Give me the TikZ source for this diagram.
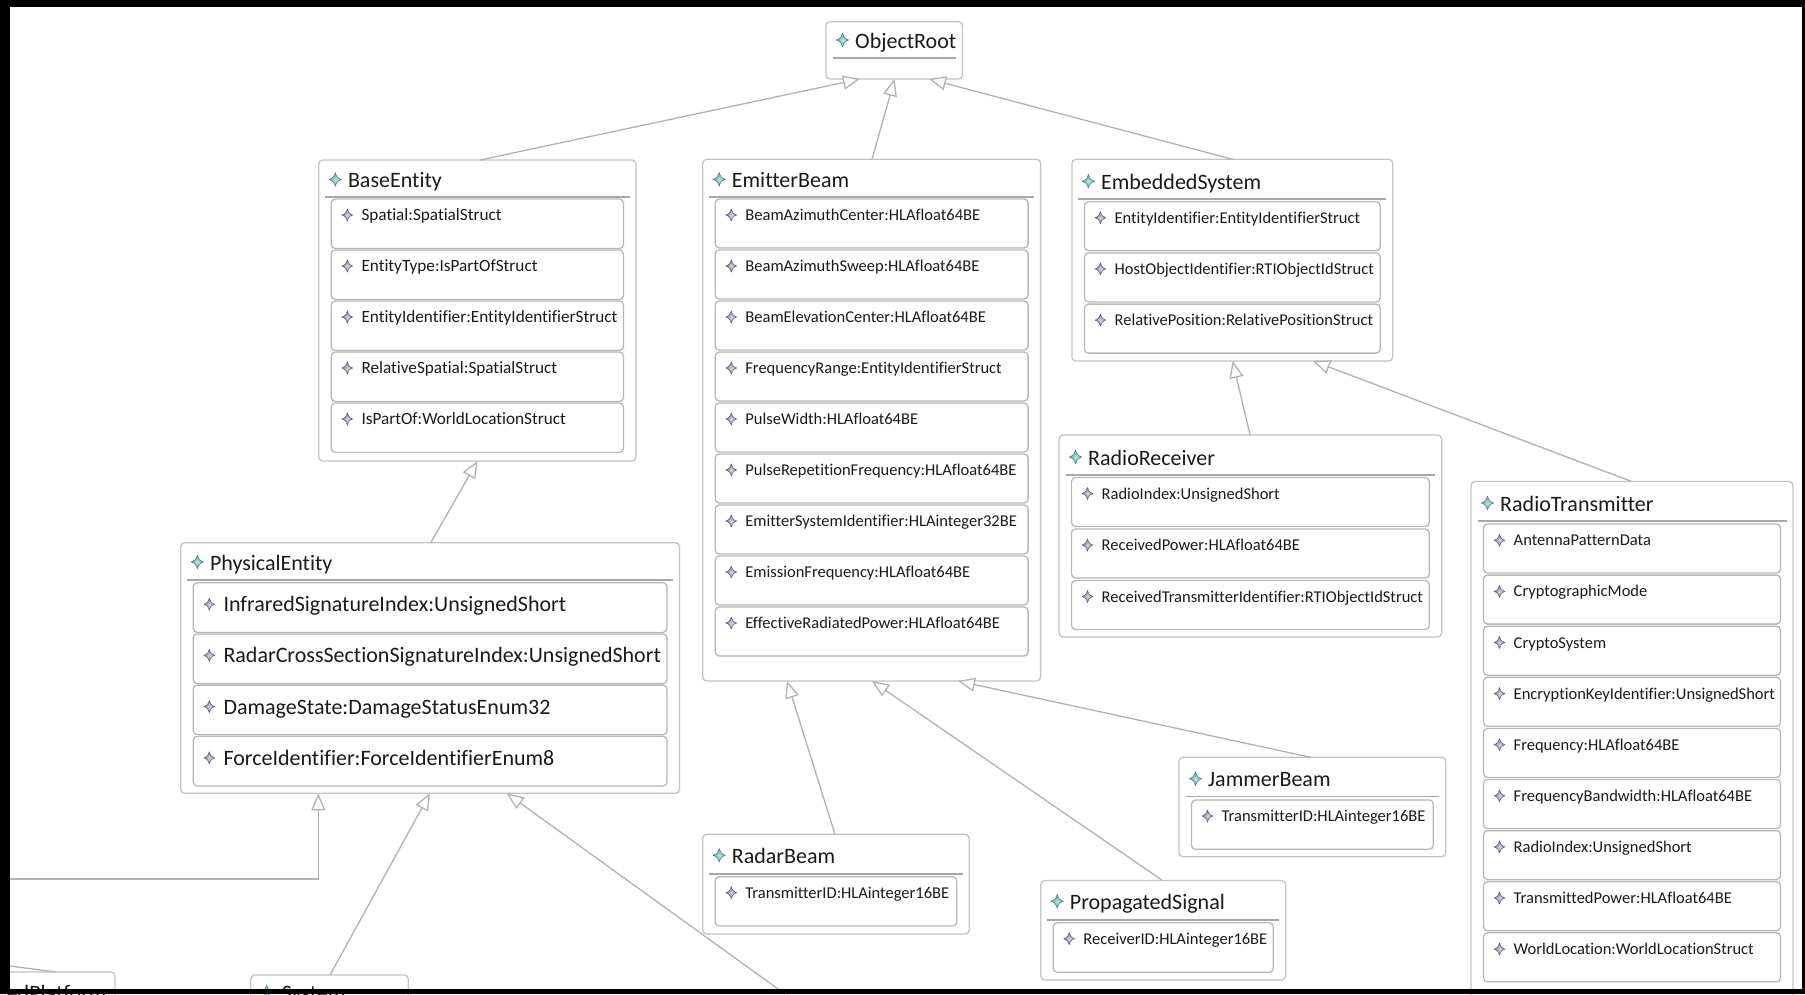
\documentclass[tikz,border=0pt]{standalone}
\usepackage{fontspec}
\newfontfamily\clsfont[Ligatures=NoCommon]{Carlito}
\usetikzlibrary{arrows.meta,fit,calc}

\definecolor{boxgray}{HTML}{C4C4C4}
\definecolor{rowgray}{HTML}{B8B8B8}
\definecolor{sepgray}{HTML}{A8A8A8}
\definecolor{edgegray}{HTML}{B2B2B2}
\definecolor{inkgray}{HTML}{1A1A1A}
\definecolor{clsteal}{HTML}{3F9B98}
\definecolor{attrviolet}{HTML}{7A6A92}

\tikzset{
  clsframe/.style={draw=boxgray, line width=1.3pt, fill=white, rounded corners=4pt,
    inner sep=0pt, outer sep=0pt, anchor=north west},
  rowframe/.style={draw=rowgray, line width=1.3pt, fill=white, rounded corners=4pt,
    inner sep=0pt, outer sep=0pt},
  septitle/.style={draw=sepgray, line width=1.2pt},
  ttl/.style={font=\clsfont\fontsize{22}{26}\selectfont, text=inkgray, inner sep=0pt, anchor=base west},
  attrsmall/.style={font=\clsfont\fontsize{16.5}{20}\selectfont, text=inkgray, inner sep=0pt, anchor=base west},
  attrmid/.style={font=\clsfont\fontsize{17.2}{20}\selectfont, text=inkgray, inner sep=0pt, anchor=base west},
  attrlarge/.style={font=\clsfont\fontsize{22}{26}\selectfont, text=inkgray, inner sep=0pt, anchor=base west},
  gen/.style={draw=edgegray, line width=1.3pt, -{Triangle[length=17pt,width=14pt,fill=white]}},
  plainedge/.style={draw=edgegray, line width=1.3pt},
  tstar/.pic={
    \shadedraw[inner color=clsteal!25, outer color=clsteal, draw=clsteal!80!black, line width=0.4pt]
      (0,-6.8) .. controls (1.9,-1.9) .. (6.2,0) .. controls (1.9,1.9) .. (0,6.8)
      .. controls (-1.9,1.9) .. (-6.2,0) .. controls (-1.9,-1.9) .. (0,-6.8) -- cycle;
  },
  astar/.pic={
    \shadedraw[inner color=attrviolet!25, outer color=attrviolet, draw=attrviolet!75!black, line width=0.4pt]
      (0,-6) .. controls (1.7,-1.7) .. (5.4,0) .. controls (1.7,1.7) .. (0,6)
      .. controls (-1.7,1.7) .. (-5.4,0) .. controls (-1.7,-1.7) .. (0,-6) -- cycle;
  }
}

% class header: #1 node, #2 name, #3 baseline offset, #4 separator offset
\newcommand{\clshead}[4]{%
  \pic at ([shift={(16.5,#3-8)}]#1.north west) {tstar};
  \node[ttl] (#1-title) at ([shift={(29,#3)}]#1.north west) {#2};
  \draw[septitle] ([shift={(6.5,#4)}]#1.north west) -- ([shift={(-6.5,#4)}]#1.north east);
}

% attribute rows: #1 node, #2 first row offset, #3 pitch, #4 row height,
% #5 text style, #6 baseline offset, #7 star lift, #8 list of attributes
\newcommand{\clsrows}[8]{%
  \foreach \txt [count=\k from 0] in {#8} {
    \pgfmathsetmacro{\rtop}{#2+\k*#3}
    \pgfmathsetmacro{\rbot}{\rtop+#4}
    \pgfmathsetmacro{\rstar}{\rtop+#6-#7}
    \pgfmathsetmacro{\rbase}{\rtop+#6}
    \node[rowframe, fit={([shift={(12.5,\rtop)}]#1.north west) ([shift={(-12.5,\rbot)}]#1.north east)}] (#1-r\k) {};
    \pic at ([shift={(28.5,\rstar)}]#1.north west) {astar};
    \node[#5] (#1-a\k) at ([shift={(42.5,\rbase)}]#1.north west) {\txt};
  }
}

\begin{document}
\begin{tikzpicture}[x=1pt,y=-1pt]
\useasboundingbox (0,0) rectangle (1805,994);
\fill[white] (0,0) rectangle (1805,994);

% ---- class boxes ----
\node[clsframe, minimum width=136.5pt, minimum height=57.3pt] (root) at (826,21.7) {};
\clshead{root}{ObjectRoot}{26.3}{36.3}

\node[clsframe, minimum width=317.2pt, minimum height=301pt] (base) at (318.8,160) {};
\clshead{base}{BaseEntity}{27.5}{37}
\clsrows{base}{39}{51}{49.5}{attrmid}{21.5}{5.5}{Spatial:SpatialStruct,EntityType:IsPartOfStruct,EntityIdentifier:EntityIdentifierStruct,RelativeSpatial:SpatialStruct,IsPartOf:WorldLocationStruct}

\node[clsframe, minimum width=337.9pt, minimum height=521.7pt] (emit) at (702.7,159.3) {};
\clshead{emit}{EmitterBeam}{28}{37.7}
\clsrows{emit}{39.7}{51}{49}{attrsmall}{21.5}{5.5}{BeamAzimuthCenter:HLAfloat64BE,BeamAzimuthSweep:HLAfloat64BE,BeamElevationCenter:HLAfloat64BE,FrequencyRange:EntityIdentifierStruct,PulseWidth:HLAfloat64BE,PulseRepetitionFrequency:HLAfloat64BE,EmitterSystemIdentifier:HLAinteger32BE,EmissionFrequency:HLAfloat64BE,EffectiveRadiatedPower:HLAfloat64BE}

\node[clsframe, minimum width=320.8pt, minimum height=201.7pt] (embed) at (1071.9,159.3) {};
\clshead{embed}{EmbeddedSystem}{30}{39.7}
\clsrows{embed}{42.4}{51.2}{49}{attrsmall}{21.5}{5.5}{EntityIdentifier:EntityIdentifierStruct,HostObjectIdentifier:RTIObjectIdStruct,RelativePosition:RelativePositionStruct}

\node[clsframe, minimum width=382.7pt, minimum height=202pt] (rrx) at (1059,435) {};
\clshead{rrx}{RadioReceiver}{30}{40}
\clsrows{rrx}{42.5}{51.5}{49}{attrsmall}{21.5}{5.5}{RadioIndex:UnsignedShort,ReceivedPower:HLAfloat64BE,ReceivedTransmitterIdentifier:RTIObjectIdStruct}

\node[clsframe, minimum width=322pt, minimum height=520pt] (rtx) at (1471,481.5) {};
\clshead{rtx}{RadioTransmitter}{29.5}{39.5}
\clsrows{rtx}{42.5}{51.1}{49}{attrsmall}{21.8}{5.5}{AntennaPatternData,CryptographicMode,CryptoSystem,EncryptionKeyIdentifier:UnsignedShort,Frequency:HLAfloat64BE,FrequencyBandwidth:HLAfloat64BE,RadioIndex:UnsignedShort,TransmittedPower:HLAfloat64BE,WorldLocation:WorldLocationStruct}

\node[clsframe, minimum width=498.7pt, minimum height=250.6pt] (phys) at (180.8,542.7) {};
\clshead{phys}{PhysicalEntity}{27.3}{37.3}
\clsrows{phys}{40}{51.2}{49.7}{attrlarge}{29}{7.5}{InfraredSignatureIndex:UnsignedShort,RadarCrossSectionSignatureIndex:UnsignedShort,DamageState:DamageStatusEnum32,ForceIdentifier:ForceIdentifierEnum8}

\node[clsframe, minimum width=266.7pt, minimum height=99.4pt] (jam) at (1179,757.3) {};
\clshead{jam}{JammerBeam}{29.4}{39.2}
\clsrows{jam}{42.7}{51}{49.3}{attrsmall}{21.5}{5.5}{TransmitterID:HLAinteger16BE}

\node[clsframe, minimum width=266.5pt, minimum height=99.7pt] (radar) at (702.7,834.3) {};
\clshead{radar}{RadarBeam}{29}{39.7}
\clsrows{radar}{42.4}{51}{49.3}{attrsmall}{21.5}{5.5}{TransmitterID:HLAinteger16BE}

\node[clsframe, minimum width=245pt, minimum height=99.5pt] (prop) at (1040.7,880.5) {};
\clshead{prop}{PropagatedSignal}{28.8}{39.5}
\clsrows{prop}{42.2}{51}{49.6}{attrsmall}{21.5}{5.5}{ReceiverID:HLAinteger16BE}

% boxes running past the lower edge
\node[clsframe, minimum width=145pt, minimum height=80pt] (edp) at (-30,972) {};
\node[ttl, anchor=base east] (edp-title) at (106.7,1000) {edPlatform};

\node[clsframe, minimum width=157.6pt, minimum height=80pt] (sys) at (250.7,975) {};
\pic at (266.7,992) {tstar};
\node[ttl] (sys-title) at (281.7,1000) {System};

% ---- generalisation connectors ----
\draw[gen] ([shift={(161.2,0)}]base.north west) -- ([shift={(34,0)}]root.south west);
\draw[gen] ([shift={(169.3,0)}]emit.north west) -- ([shift={(68.6,0)}]root.south west);
\draw[gen] ([shift={(160.7,0)}]embed.north west) -- ([shift={(103,0)}]root.south west);
\draw[gen] ([shift={(250,0)}]phys.north west) -- ([shift={(158.7,0)}]base.south west);
\draw[gen] ([shift={(191,0)}]rrx.north west) -- ([shift={(160.7,0)}]embed.south west);
\draw[gen] ([shift={(160.7,0)}]rtx.north west) -- ([shift={(241.1,0)}]embed.south west);
\draw[gen] ([shift={(132.3,0)}]radar.north west) -- ([shift={(84.3,0)}]emit.south west);
\draw[gen] ([shift={(121.8,0)}]prop.north west) -- ([shift={(169.3,0)}]emit.south west);
\draw[gen] ([shift={(131.7,0)}]jam.north west) -- ([shift={(255.3,0)}]emit.south west);

\coordinate (leftin) at (0,879);
\draw[gen] (leftin) -| ([shift={(137.5,0)}]phys.south west);
\draw[gen] ([shift={(79.3,0)}]sys.north west) -- ([shift={(249.2,0)}]phys.south west);
\coordinate (lowin) at (785,994);
\draw[gen] (lowin) -- ([shift={(325.9,0)}]phys.south west);
\coordinate (edpin) at (0,964.7);
\draw[plainedge] (edpin) -- ([shift={(86,0)}]edp.north west);

% ---- window frame ----
\fill[black] (0,0) rectangle (1805,7);
\fill[black] (0,0) rectangle (10,994);
\fill[black] (0,988.5) rectangle (1805,994);
\fill[black] (1802,0) rectangle (1805,994);
\end{tikzpicture}
\end{document}
